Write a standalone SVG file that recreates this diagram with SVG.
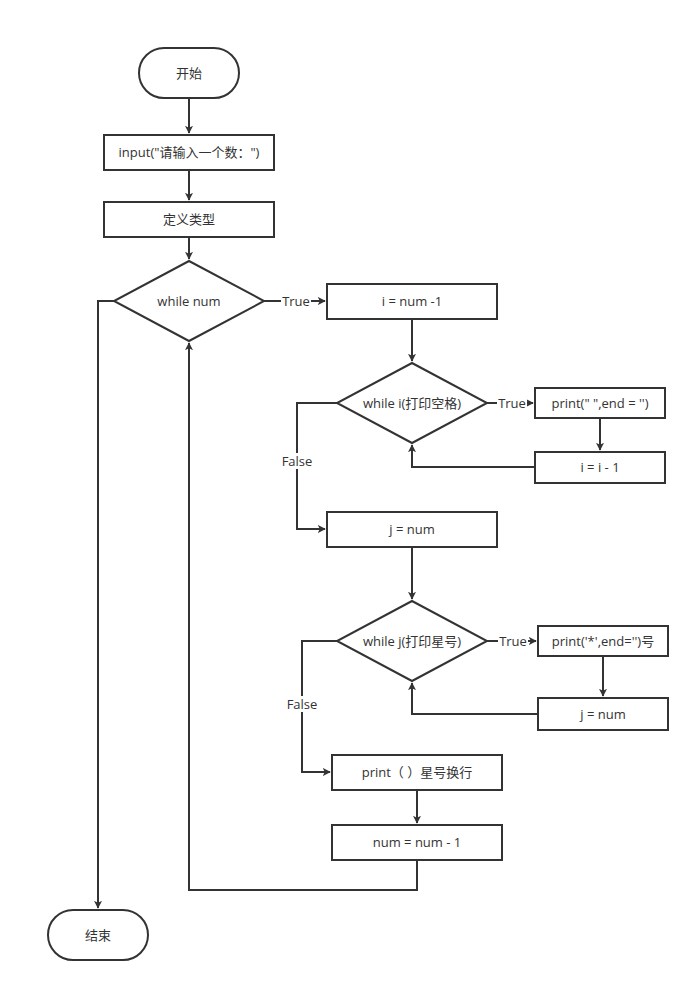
<svg xmlns="http://www.w3.org/2000/svg" width="700" height="992" viewBox="0 0 700 992">
<style>
.s{fill:#fff;stroke:#333;stroke-width:2}
.t{font-family:"Open Sans","Noto Sans CJK SC",sans-serif;font-size:13px;fill:#333;text-anchor:middle;dominant-baseline:central}
.c{fill:none;stroke:#333;stroke-width:2}
.lb{fill:#fff}
</style>
<defs>
<marker id="a" viewBox="0 0 10 10" refX="9" refY="5" markerWidth="8" markerHeight="8" markerUnits="userSpaceOnUse" orient="auto"><path d="M0,0L10,5L0,10L2.5,5Z" fill="#333"/></marker>
</defs>
<rect width="700" height="992" fill="#fff"/>
<g id="connectors">
<path class="c" d="M189,98V133" marker-end="url(#a)"/>
<path class="c" d="M189,170V200" marker-end="url(#a)"/>
<path class="c" d="M189,237V259" marker-end="url(#a)"/>
<path class="c" d="M264,301H325" marker-end="url(#a)"/>
<path class="c" d="M412,319V361" marker-end="url(#a)"/>
<path class="c" d="M487,403H533" marker-end="url(#a)"/>
<path class="c" d="M600,418V450" marker-end="url(#a)"/>
<path class="c" d="M535,467H412V445" marker-end="url(#a)"/>
<path class="c" d="M337,403H297V529H325" marker-end="url(#a)"/>
<path class="c" d="M412,547V599" marker-end="url(#a)"/>
<path class="c" d="M487,641H536" marker-end="url(#a)"/>
<path class="c" d="M603,656V696" marker-end="url(#a)"/>
<path class="c" d="M538,714H412V683" marker-end="url(#a)"/>
<path class="c" d="M337,641H302V772H330" marker-end="url(#a)"/>
<path class="c" d="M417,790V823" marker-end="url(#a)"/>
<path class="c" d="M417,860V890H189V343" marker-end="url(#a)"/>
<path class="c" d="M114,301H98V908" marker-end="url(#a)"/>
<rect class="lb" x="281" y="293" width="30" height="16"/><text class="t" x="296" y="301">True</text>
<rect class="lb" x="497" y="395" width="30" height="16"/><text class="t" x="512" y="403">True</text>
<rect class="lb" x="498" y="633" width="30" height="16"/><text class="t" x="513" y="641">True</text>
<rect class="lb" x="282" y="453" width="30" height="16"/><text class="t" x="297" y="461">False</text>
<rect class="lb" x="287" y="696" width="30" height="16"/><text class="t" x="302" y="704">False</text>
</g>
<g id="start"><rect class="s" x="139" y="48" width="100" height="50" rx="25"/><text class="t" x="189" y="73">开始</text></g>
<g id="input"><rect class="s" x="104" y="135" width="170" height="35"/><text class="t" x="189" y="152">input("请输入一个数：")</text></g>
<g id="define"><rect class="s" x="104" y="202" width="170" height="35"/><text class="t" x="189" y="219">定义类型</text></g>
<g id="whilenum"><path class="s" d="M189,261L264,301L189,341L114,301Z"/><text class="t" x="189" y="301">while num</text></g>
<g id="inum"><rect class="s" x="327" y="284" width="170" height="35"/><text class="t" x="412" y="301">i = num -1</text></g>
<g id="whilei"><path class="s" d="M412,363L487,403L412,443L337,403Z"/><text class="t" x="412" y="403">while i(打印空格)</text></g>
<g id="printsp"><rect class="s" x="535" y="388" width="130" height="30"/><text class="t" x="600" y="403">print(" ",end = '')</text></g>
<g id="idec"><rect class="s" x="535" y="452" width="130" height="31"/><text class="t" x="600" y="467">i = i - 1</text></g>
<g id="jnum"><rect class="s" x="327" y="512" width="170" height="35"/><text class="t" x="412" y="529">j = num</text></g>
<g id="whilej"><path class="s" d="M412,601L487,641L412,681L337,641Z"/><text class="t" x="412" y="641">while j(打印星号)</text></g>
<g id="printstar"><rect class="s" x="538" y="626" width="130" height="30"/><text class="t" x="603" y="641">print('*',end='')号</text></g>
<g id="jnum2"><rect class="s" x="538" y="698" width="130" height="32"/><text class="t" x="603" y="714">j = num</text></g>
<g id="printnl"><rect class="s" x="332" y="755" width="170" height="35"/><text class="t" x="417" y="772">print（ ）星号换行</text></g>
<g id="numdec"><rect class="s" x="332" y="825" width="170" height="35"/><text class="t" x="417" y="842">num = num - 1</text></g>
<g id="end"><rect class="s" x="48" y="910" width="100" height="50" rx="25"/><text class="t" x="98" y="935">结束</text></g>
</svg>
